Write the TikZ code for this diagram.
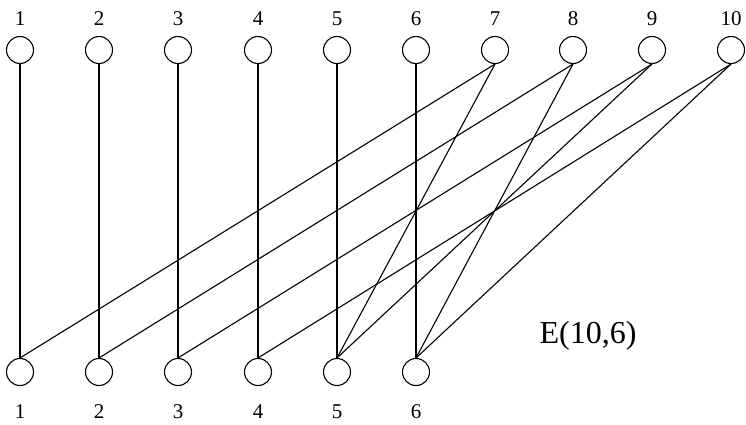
\documentclass[tikz,border=0pt]{standalone}
\usepackage{fontspec}
\setmainfont{Liberation Serif}
\usetikzlibrary{positioning}
\tikzset{
  vert/.style={circle, draw=black, line width=1.1pt, minimum size=27pt, inner sep=0pt},
  edge/.style={line width=1.1pt, draw=black},
  toplab/.style={label distance=7pt, font=\fontsize{21}{21}\selectfont},
  botlab/.style={label distance=15pt, font=\fontsize{21}{21}\selectfont}
}

\begin{document}
\begin{tikzpicture}[x=1pt, y=-1pt]
  \useasboundingbox (0,0) rectangle (746,424);
  % upper row
  \node[vert, label={[toplab]above:1}] (t1) at (20,50) {};
  \node[vert, label={[toplab]above:2}] (t2) at (99,50) {};
  \node[vert, label={[toplab]above:3}] (t3) at (178,50) {};
  \node[vert, label={[toplab]above:4}] (t4) at (258,50) {};
  \node[vert, label={[toplab]above:5}] (t5) at (337,50) {};
  \node[vert, label={[toplab]above:6}] (t6) at (416,50) {};
  \node[vert, label={[toplab]above:7}] (t7) at (495,50) {};
  \node[vert, label={[toplab]above:8}] (t8) at (573,50) {};
  \node[vert, label={[toplab]above:9}] (t9) at (652,50) {};
  \node[vert, label={[toplab]above:10}] (t10) at (731,50) {};
  % lower row
  \node[vert, label={[botlab]below:1}] (b1) at (20,372) {};
  \node[vert, label={[botlab]below:2}] (b2) at (99,372) {};
  \node[vert, label={[botlab]below:3}] (b3) at (178,372) {};
  \node[vert, label={[botlab]below:4}] (b4) at (258,372) {};
  \node[vert, label={[botlab]below:5}] (b5) at (337,372) {};
  \node[vert, label={[botlab]below:6}] (b6) at (416,372) {};

  \node[font=\fontsize{32}{32}\selectfont] (name) at (588,336) {E(10,6)};

  \draw[edge] (t1.south) -- (b1.north);
  \draw[edge] (t2.south) -- (b2.north);
  \draw[edge] (t3.south) -- (b3.north);
  \draw[edge] (t4.south) -- (b4.north);
  \draw[edge] (t5.south) -- (b5.north);
  \draw[edge] (t6.south) -- (b6.north);
  \draw[edge] (t7.south) -- (b1.north);
  \draw[edge] (t7.south) -- (b5.north);
  \draw[edge] (t8.south) -- (b2.north);
  \draw[edge] (t8.south) -- (b6.north);
  \draw[edge] (t9.south) -- (b3.north);
  \draw[edge] (t9.south) -- (b5.north);
  \draw[edge] (t10.south) -- (b4.north);
  \draw[edge] (t10.south) -- (b6.north);
\end{tikzpicture}
\end{document}
